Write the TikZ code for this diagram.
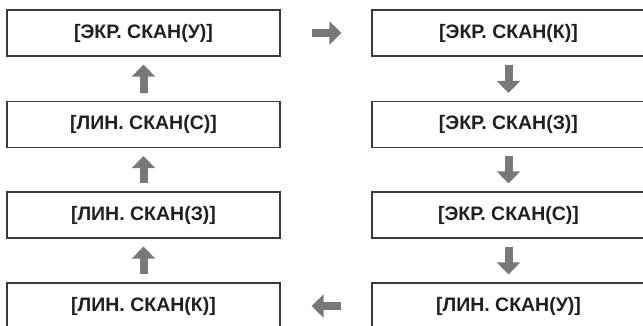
\documentclass[tikz,border=0pt]{standalone}
\usepackage{fontspec}
\setmainfont{Liberation Sans}
\usetikzlibrary{arrows.meta}
\definecolor{boxline}{HTML}{3A3A3A}
\definecolor{txt}{HTML}{231F20}
\definecolor{arr}{HTML}{77787B}
\begin{document}
\begin{tikzpicture}[x=1pt,y=-1pt,
  modebox/.style={draw=boxline, line width=1.3pt, fill=white, minimum width=273pt, minimum height=46pt,
    inner sep=0pt, text=txt, font=\fontsize{19.5}{22}\selectfont\bfseries},
  flow/.style={draw=arr, line width=8pt, -{Triangle[width=23pt,length=12pt]}}]
\useasboundingbox (0,0) rectangle (643,325);
\clip (0,0) rectangle (643,325);
\node[modebox] (l1) at (143.5,33) {[ЭКР. СКАН(У)]};
\node[modebox] (l2) at (143.5,124.5) {[ЛИН. СКАН(С)]};
\node[modebox] (l3) at (143.5,215) {[ЛИН. СКАН(З)]};
\node[modebox] (l4) at (143.5,306) {[ЛИН. СКАН(К)]};
\node[modebox] (r1) at (508.5,33) {[ЭКР. СКАН(К)]};
\node[modebox] (r2) at (508.5,124.5) {[ЭКР. СКАН(З)]};
\node[modebox] (r3) at (508.5,215) {[ЭКР. СКАН(С)]};
\node[modebox] (r4) at (508.5,306) {[ЛИН. СКАН(У)]};
\draw[flow, shorten <=31pt, shorten >=30pt] (l1.east) -- (r1.west);
\draw[flow, shorten <=8pt, shorten >=8pt] (r1.south) -- (r2.north);
\draw[flow, shorten <=8pt, shorten >=8pt] (r2.south) -- (r3.north);
\draw[flow, shorten <=8pt, shorten >=8pt] (r3.south) -- (r4.north);
\draw[flow, shorten <=30pt, shorten >=31pt] (r4.west) -- (l4.east);
\draw[flow, shorten <=8pt, shorten >=8pt] (l4.north) -- (l3.south);
\draw[flow, shorten <=8pt, shorten >=8pt] (l3.north) -- (l2.south);
\draw[flow, shorten <=8pt, shorten >=8pt] (l2.north) -- (l1.south);
\end{tikzpicture}
\end{document}
